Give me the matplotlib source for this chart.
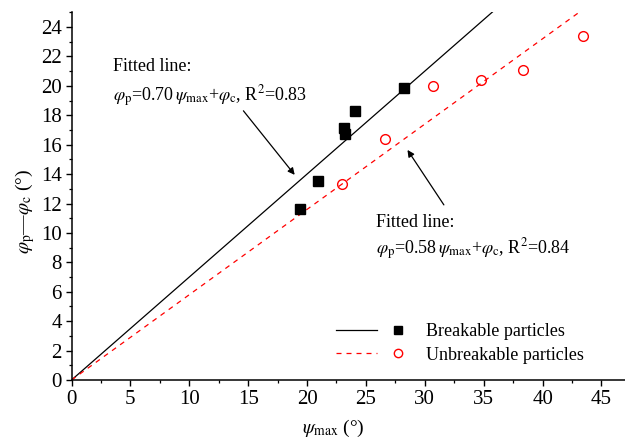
import numpy as np
import matplotlib
matplotlib.use('Agg')
import matplotlib.pyplot as plt
from matplotlib.lines import Line2D
from matplotlib.legend_handler import HandlerTuple

plt.rcParams['font.family'] = 'Liberation Serif'
plt.rcParams['mathtext.fontset'] = 'stix'
plt.rcParams['font.size'] = 13

# breakable particles
psi_b = [19.4, 20.9, 23.1, 23.2, 24.1, 28.2]
phi_b = [11.6, 13.5, 17.1, 16.7, 18.3, 19.85]
# unbreakable particles
psi_u = [23.0, 26.6, 30.7, 34.8, 38.3, 43.4]
phi_u = [13.3, 16.4, 20.0, 20.4, 21.05, 23.4]

k_b = 0.70
k_u = 0.58

fig = plt.figure(figsize=(6.25, 4.44), dpi=100)
ax = fig.add_axes([0.1144, 0.1441, 0.8856, 0.8282])

xs = np.array([0, 47])
ax.plot(xs, k_b * xs, color='black', lw=0.9)
ax.plot(xs, k_u * xs, color='red', lw=0.9, ls=(0, (4, 4)))
ax.plot(psi_b, phi_b, 's', color='black', ms=6.5, ls='none')
ax.plot(psi_u, phi_u, 'o', mfc='none', mec='red', mew=1.0, ms=7, ls='none')

ax.set_xlim(0, 47)
ax.set_ylim(0, 25)
ax.set_xticks(np.arange(0, 46, 5))
ax.set_xticks(np.arange(0, 47, 2.5), minor=True)
ax.set_yticks(np.arange(0, 25, 2))
ax.set_yticks(np.arange(0, 26, 1), minor=True)
for s in ['top', 'right']:
    ax.spines[s].set_visible(False)
for s in ['left', 'bottom']:
    ax.spines[s].set_linewidth(1.1)
ax.tick_params(which='major', direction='out', length=4.5, width=1.0, labelsize=15, pad=2.5)
ax.tick_params(which='minor', direction='out', length=2.5, width=0.9)

# axis labels
fig.text(333 / 625, 1 - 428 / 444, r'$\psi_{\rm max}$ (°)', fontsize=14,
         ha='center', va='center')
fig.text(25 / 625, 1 - 211 / 444, r'$\varphi_{\rm p}$—$\varphi_{\rm c}$ (°)', fontsize=14,
         ha='center', va='center', rotation=90)

# annotations
ax.text(3.55, 21.3, 'Fitted line:', fontsize=13, va='center', ha='left')
ax.text(3.55, 19.3, r'$\varphi_{\rm p}$=0.70$\,\psi_{\rm max}$+$\varphi_{\rm c}$, R$^2$=0.83',
        fontsize=13, va='center', ha='left')
ax.annotate('', xy=(19.1, 13.8), xytext=(14.45, 18.45),
            arrowprops=dict(arrowstyle='-|>', color='black', lw=0.9, mutation_scale=10))

ax.text(25.85, 10.7, 'Fitted line:', fontsize=13, va='center', ha='left')
ax.text(25.85, 8.9, r'$\varphi_{\rm p}$=0.58$\,\psi_{\rm max}$+$\varphi_{\rm c}$, R$^2$=0.84',
        fontsize=13, va='center', ha='left')
ax.annotate('', xy=(28.4, 15.8), xytext=(31.75, 11.75),
            arrowprops=dict(arrowstyle='-|>', color='black', lw=0.9, mutation_scale=10))

h1 = (Line2D([], [], color='black', lw=0.9),
      Line2D([], [], marker='s', color='black', ms=5.5, ls='none'))
h2 = (Line2D([], [], color='red', lw=0.9, ls=(0, (4, 4))),
      Line2D([], [], marker='o', mfc='none', mec='red', ms=6, ls='none'))
ax.legend([h1, h2], ['Breakable particles', 'Unbreakable particles'],
          handler_map={tuple: HandlerTuple(ndivide=None, pad=0.05)},
          handlelength=4.6, handletextpad=0.4, labelspacing=0.35,
          frameon=False, fontsize=13, loc='lower right',
          bbox_to_anchor=(0.955, 0.0))

fig.savefig('out.png', dpi=100)
